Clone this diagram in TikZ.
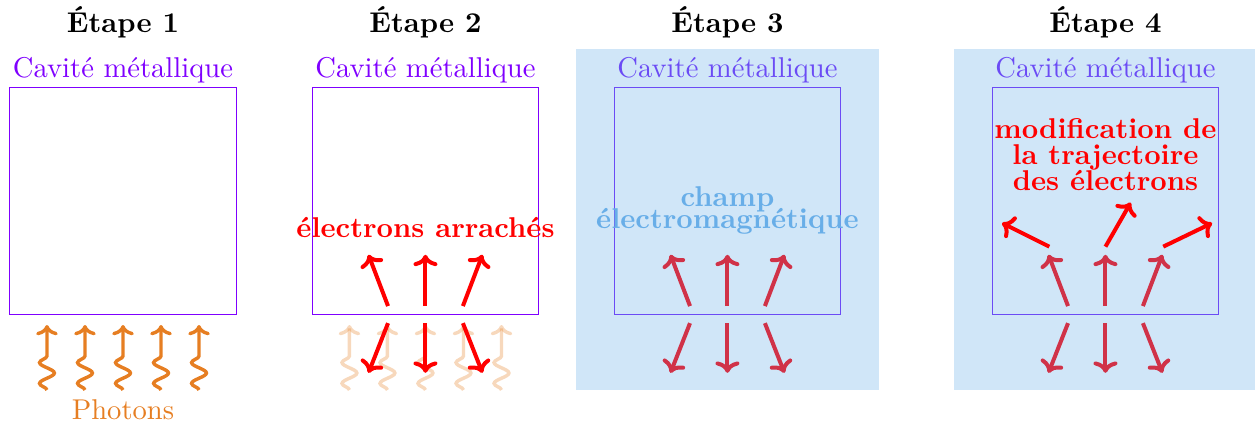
\documentclass[tikz,border=0pt]{standalone}
\usepackage{fontspec}
\usepackage{xcolor}
\usetikzlibrary{decorations.pathmorphing, arrows.meta}

\definecolor{violetcav}{RGB}{127,0,255}
\definecolor{violetfond}{RGB}{107,75,245}
\definecolor{orangephot}{RGB}{230,126,34}
\definecolor{bleuchamp}{RGB}{104,174,232}
\definecolor{bleufond}{RGB}{208,230,248}
\definecolor{rougechamp}{RGB}{208,50,72}

\begin{document}
\begin{tikzpicture}[
            every node/.style={inner sep=0.1em, text centered}
        ]
        \tikzstyle {titre} = [font=\bfseries]
        \tikzstyle {cavite} = [rectangle, draw=violetcav, minimum width=2.78cm, minimum height=2.78cm, inner sep=0pt]
        \tikzstyle {photon} = [draw=orangephot, line width=1.2pt, -{To[scale=0.85]}, decorate,
            decoration={snake, amplitude=2.6pt, segment length=7.3pt, post length=8pt}]
        \tikzstyle {electron} = [line width=1.4pt, -{To[scale=0.85]}]
        \tikzstyle {texte_rouge} = [text=red, font=\bfseries, align=center]

        \useasboundingbox (0,0) rectangle (15.418,-5.209);

        % fonds bleus des etapes 3 et 4
        \fill[bleufond] (7.076,-0.602) rectangle (10.799,-4.791);
        \fill[bleufond] (11.720,-0.602) rectangle (15.418,-4.791);

        \node [titre] (t1) at (1.511,-0.27) {Étape 1};
        \node [titre] (t2) at (5.227,-0.27) {Étape 2};
        \node [titre] (t3) at (8.937,-0.27) {Étape 3};
        \node [titre] (t4) at (13.581,-0.27) {Étape 4};

        \node [cavite] (cav1) at (1.511,-2.469) {};
        \node [cavite] (cav2) at (5.227,-2.469) {};
        \node [cavite, draw=violetfond] (cav3) at (8.937,-2.469) {};
        \node [cavite, draw=violetfond] (cav4) at (13.581,-2.469) {};

        \node [text=violetcav] (l1) at (1.511,-0.86) {Cavité métallique};
        \node [text=violetcav] (l2) at (5.227,-0.86) {Cavité métallique};
        \node [text=violetfond] (l3) at (8.937,-0.86) {Cavité métallique};
        \node [text=violetfond] (l4) at (13.581,-0.86) {Cavité métallique};

        % photons
        \foreach \i in {-2,...,2} {
            \coordinate (pa\i) at (1.511+0.467*\i,-4.791);
            \coordinate (pb\i) at (1.511+0.467*\i,-3.993);
            \draw [photon] (pa\i) -- (pb\i);
            \coordinate (qa\i) at (5.227+0.467*\i,-4.791);
            \coordinate (qb\i) at (5.227+0.467*\i,-3.993);
            \draw [photon, opacity=0.3] (qa\i) -- (qb\i);
        }
        \node [text=orangephot] (ph) at (1.511,-5.037) {Photons};

        \node [texte_rouge] (arr) at (5.227,-2.80) {électrons arrachés};
        \node [text=bleuchamp, font=\bfseries, align=center] (champ) at (8.937,-2.59)
            {champ\\[-4.3pt]électromagnétique};
        \node [texte_rouge] (modif) at (13.581,-1.90)
            {modification de\\[-3pt]la trajectoire\\[-3pt]des électrons};

        % electrons
        \foreach \p/\cx/\col in {2/5.227/red,3/8.937/rougechamp,4/13.581/rougechamp} {
            \foreach \d/\dx in {g/-1,m/0,d/1} {
                \coordinate (h\p\d) at (\cx+0.46*\dx,-3.76);
                \coordinate (ht\p\d) at (\cx+0.70*\dx,-3.13);
                \coordinate (b\p\d) at (\cx+0.46*\dx,-3.97);
                \coordinate (bt\p\d) at (\cx+0.70*\dx,-4.58);
                \draw [electron, draw=\col] (h\p\d) -- (ht\p\d);
                \draw [electron, draw=\col] (b\p\d) -- (bt\p\d);
            }
        }

        % trajectoires modifiees
        \coordinate (dg0) at (12.891,-3.03);
        \coordinate (dg1) at (12.311,-2.74);
        \coordinate (dm0) at (13.581,-3.03);
        \coordinate (dm1) at (13.891,-2.49);
        \coordinate (dd0) at (14.291,-3.03);
        \coordinate (dd1) at (14.891,-2.74);
        \draw [electron, draw=red] (dg0) -- (dg1);
        \draw [electron, draw=red] (dm0) -- (dm1);
        \draw [electron, draw=red] (dd0) -- (dd1);

        \end{tikzpicture}
\end{document}
